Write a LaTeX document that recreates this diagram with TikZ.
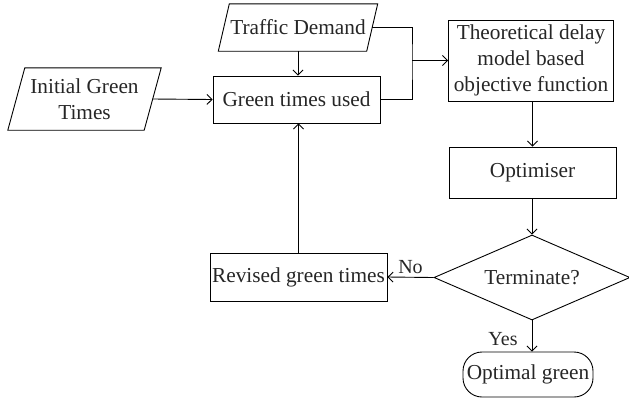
\documentclass[tikz,border=0pt]{standalone}
\usepackage{fontspec}
\setmainfont{Liberation Serif}
\usetikzlibrary{shapes.geometric,arrows.meta}
\begin{document}
\begin{tikzpicture}[x=1pt,y=-1pt,
  every node/.style={font=\fontsize{21.3}{26}\selectfont, text=black!85, inner sep=0pt},
  box/.style={draw, line width=0.9pt, minimum width=#1},
  para/.style={minimum width=#1},
  flow/.style={line width=0.9pt, -{Straight Barb[length=5pt,width=10pt,line width=0.9pt]}},
  line/.style={line width=0.9pt},
  lbl/.style={font=\fontsize{20}{22}\selectfont}
]
\useasboundingbox (0,0) rectangle (629,400);
% Traffic Demand (parallelogram)
\node[para=148, minimum height=47] (td) at (298,27.5) {Traffic Demand};
\draw[line] ([xshift=5.5pt]td.north west) -- ([xshift=5.5pt]td.north east)
  -- ([xshift=-5.5pt]td.south east) -- ([xshift=-5.5pt]td.south west) -- cycle;
% Initial Green Times (parallelogram)
\node[para=136, minimum height=62, align=center] (ig) at (84.5,99) {Initial Green\\Times};
\draw[line] ([xshift=8.5pt]ig.north west) -- ([xshift=8.5pt]ig.north east)
  -- ([xshift=-8.5pt]ig.south east) -- ([xshift=-8.5pt]ig.south west) -- cycle;
% Green times used
\node[box=167, minimum height=47] (gu) at (296.5,99.5) {Green times used};
% Theoretical model
\node[box=165, minimum height=81, align=center] (th) at (531,60.5) {Theoretical delay\\model based\\objective function};
% Optimiser
\node[box=167, minimum height=51] (op) at (532.5,172.5) {Optimiser};
% Terminate diamond
\node[diamond, draw, line width=0.9pt, minimum width=196, minimum height=85, aspect=2.3] (te) at (532,277.5) {Terminate?};
% Revised green times
\node[box=177, minimum height=48] (rg) at (298.5,277) {Revised green times};
% Optimal green
\node[draw, line width=0.9pt, rounded corners=19pt, minimum width=130, minimum height=45] (og) at (528,374.5) {Optimal green};
% junction
\coordinate (j) at (412,60.5);
% connectors
\draw[flow] (td.south) -- (td.south |- gu.north);
\draw[flow] (ig.east) -- (gu.west);
\draw[line] (td.east) -| (j) |- (gu.east);
\draw[flow] (j) -- (th.west);
\draw[flow] (th.south -| op.north) -- (op.north);
\draw[flow] (op.south) -- (op.south -| te.north) -- (te.north);
\draw[flow] (te.west) -- node[lbl, above, yshift=3pt] (no) {No} (rg.east);
\draw[flow] (rg.north) -- (rg.north |- gu.south);
\draw[flow] (te.south) -- node[lbl, left, xshift=-14pt, yshift=-3pt] (yes) {Yes} (te.south |- og.north);
\end{tikzpicture}
\end{document}
